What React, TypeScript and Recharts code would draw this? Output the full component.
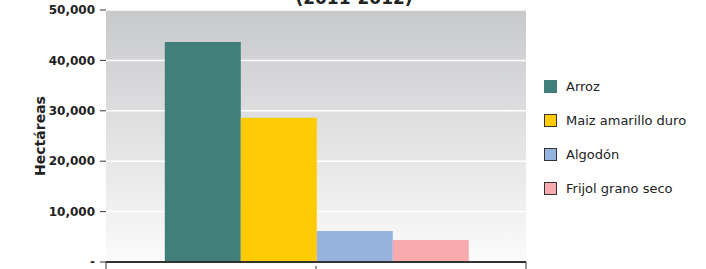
import React from 'react';
import { BarChart, Bar, XAxis, YAxis, CartesianGrid, Customized } from 'recharts';

const categories = ['2011-2012'];
const seriesNames = ['Arroz', 'Maiz amarillo duro', 'Algodón', 'Frijol grano seco'];
const seriesKeys = ['arroz', 'maiz', 'algodon', 'frijol'];
const seriesValues = [43650, 28600, 6150, 4370];
const seriesColors = ['#41807a', '#ffcb05', '#95b3dd', '#f8aaad'];
const yTicks = [0, 10000, 20000, 30000, 40000, 50000];

const data = categories.map((name) => {
  const row: Record<string, string | number> = { name };
  seriesKeys.forEach((k, i) => {
    row[k] = seriesValues[i];
  });
  return row;
});

const font = '"DejaVu Sans", Verdana, sans-serif';

const fmt = (v: number) => (v === 0 ? '-' : v.toLocaleString('en-US'));

// tick marks at both edges of the category band, short one at its centre
const BandTick = (props: any) => {
  const { x, y, payload, width } = props;
  const half = payload && payload.offset ? payload.offset : width / 2;
  return (
    <g>
      {[-1, 0, 1].map((k) => (
        <line
          key={k}
          x1={x + k * half}
          x2={x + k * half}
          y1={k === 0 ? y + 4 : y}
          y2={y + 7}
          stroke="#333"
          strokeWidth={1}
        />
      ))}
    </g>
  );
};

const App: React.FC = () => {
  return (
    <div style={{ position: 'relative', width: 706, height: 269, overflow: 'hidden', fontFamily: font }}>
      <style>{`body{margin:0}`}</style>
      <BarChart
        width={706}
        height={269}
        data={data}
        margin={{ top: 10, right: 180, bottom: 0, left: 0 }}
        barCategoryGap="14%"
        barGap={0}
      >
        <defs>
          <linearGradient id="plotBg" x1="0" y1="0" x2="0" y2="1">
            <stop offset="0%" stopColor="#c8c9cb" />
            <stop offset="100%" stopColor="#fbfbfb" />
          </linearGradient>
        </defs>
        <CartesianGrid
          vertical={false}
          fill="url(#plotBg)"
          stroke="#ffffff"
          strokeWidth={1.5}
          strokeDasharray=""
        />
        <XAxis
          dataKey="name"
          xAxisId="cat"
          tick={<BandTick />}
          tickLine={false}
          tickSize={0}
          tickMargin={0}
          interval={0}
          height={7}
          axisLine={{ stroke: '#333', strokeWidth: 2 }}
        />
        <YAxis
          width={106}
          domain={[0, 50000]}
          ticks={yTicks}
          interval={0}
          tickFormatter={fmt}
          axisLine={false}
          tickLine={{ stroke: '#333' }}
          tickSize={6}
          tickMargin={5}
          tick={{ fill: '#222', fontSize: 12, fontWeight: 'bold', fontFamily: font }}
          label={{
            value: 'Hectáreas',
            angle: -90,
            position: 'insideLeft',
            offset: 40,
            style: { fill: '#222', fontSize: 14, fontWeight: 'bold', fontFamily: font, textAnchor: 'middle' },
          }}
        />
        {seriesKeys.map((k, i) => (
          <Bar key={k} xAxisId="cat" dataKey={k} name={seriesNames[i]} fill={seriesColors[i]} isAnimationActive={false} />
        ))}
        <Customized
          component={() => (
            <text x={354} y={4} textAnchor="middle" fontFamily={font} fontSize={17} fontWeight="bold" fill="#222">
              (2011-2012)
            </text>
          )}
        />
      </BarChart>
      <div style={{ position: 'absolute', left: 544, top: 69 }}>
        {seriesNames.map((n, i) => (
          <div key={n} style={{ display: 'flex', alignItems: 'center', height: 34, fontSize: 13, color: '#222' }}>
            <span
              style={{
                display: 'inline-block',
                width: 11,
                height: 11,
                background: seriesColors[i],
                border: `1px solid ${i === 0 ? seriesColors[i] : '#333'}`,
                marginRight: 9,
              }}
            />
            {n}
          </div>
        ))}
      </div>
    </div>
  );
};

export default App;
